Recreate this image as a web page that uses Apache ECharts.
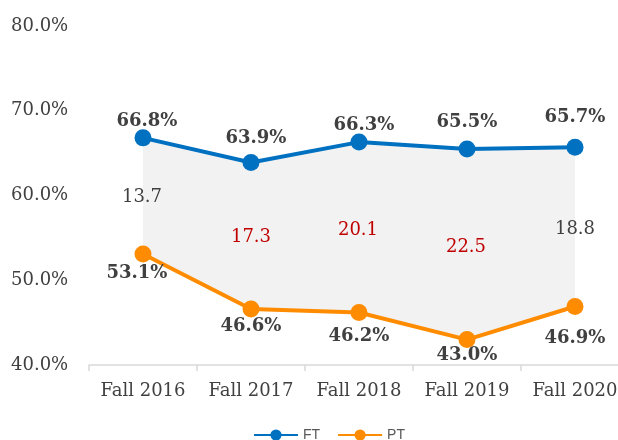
<!DOCTYPE html>
<html><head><meta charset="utf-8">
<script src="https://cdn.jsdelivr.net/npm/echarts@6/dist/echarts.min.js"></script>
<style>html,body{margin:0;padding:0;background:#fff;overflow:hidden}#c{width:640px;height:440px}</style>
</head><body><div id="c"></div>
<script>
var categories = ['Fall 2016','Fall 2017','Fall 2018','Fall 2019','Fall 2020'];
var ftValues = [66.8, 63.9, 66.3, 65.5, 65.7];
var ptValues = [53.1, 46.6, 46.2, 43.0, 46.9];
var gapValues = [13.7, 17.3, 20.1, 22.5, 18.8];
var yTicks = [40, 50, 60, 70, 80];

// label styling (offsets in px relative to point centre)
var ftOffsets = [[4,-17],[5,-24],[5,-17],[0,-27],[0,-30]];
var ptOffsets = [[-6,19],[0,17],[0,24],[0,16],[0,32]];
var gapOffsets = [[-1,59],[0,75],[-1,88],[-1,98],[0,82]];
var gapColors = ['#404040','#c00000','#c00000','#c00000','#404040'];

var serif = '"DejaVu Serif", serif';
var chart = echarts.init(document.getElementById('c'));
function labeled(vals, offs, fmt, extra) {
  return vals.map(function(v, i){
    var lab = {show:true, position:'inside', offset:offs[i], formatter:fmt,
      fontFamily:serif, fontSize:18, fontWeight:'bold', color:'#404040'};
    if (extra) Object.assign(lab, extra(i));
    return {value:v, label:lab};
  });
}
chart.setOption({
  animation:false,
  grid:{left:89, top:26, right:11, bottom:75},
  legend:{data:['FT','PT'], bottom:-7, left:248, itemWidth:44, itemHeight:14, itemGap:17,
    textStyle:{fontFamily:'"Liberation Sans", sans-serif', fontSize:14, color:'#595959'}},
  xAxis:{type:'category', data:categories, boundaryGap:true,
    axisLine:{lineStyle:{color:'#d9d9d9', width:1.5}},
    axisTick:{show:true, interval:0, alignWithLabel:false, length:6, lineStyle:{color:'#d9d9d9', width:1.5}},
    axisLabel:{interval:0, fontFamily:serif, fontSize:18, color:'#404040', margin:17}},
  yAxis:{type:'value', min:yTicks[0], max:yTicks[yTicks.length-1], interval:10,
    splitLine:{show:false}, axisLine:{show:false}, axisTick:{show:false},
    axisLabel:{fontFamily:serif, fontSize:18, color:'#404040', align:'left', margin:78,
      formatter:function(v){return v.toFixed(1)+'%';}}},
  series:[
    {name:'base', type:'line', stack:'band', data:ptValues, symbol:'none',
      lineStyle:{opacity:0}, silent:true, z:1},
    {name:'gap', type:'line', stack:'band', symbol:'circle', symbolSize:1,
      itemStyle:{color:'transparent'},
      data:labeled(gapValues, gapOffsets, function(p){return p.value.toFixed(1);},
        function(i){return {fontWeight:'normal', color:gapColors[i]};}),
      lineStyle:{opacity:0}, areaStyle:{color:'#f2f2f2', opacity:1}, silent:true, z:1},
    {name:'FT', type:'line', data:labeled(ftValues, ftOffsets, function(p){return p.value.toFixed(1)+'%';}),
      symbol:'circle', symbolSize:17, color:'#0070c0',
      lineStyle:{width:4, color:'#0070c0'}, itemStyle:{color:'#0070c0'}, z:3},
    {name:'PT', type:'line', data:labeled(ptValues, ptOffsets, function(p){return p.value.toFixed(1)+'%';}),
      symbol:'circle', symbolSize:17, color:'#ff8c00',
      lineStyle:{width:4, color:'#ff8c00'}, itemStyle:{color:'#ff8c00'}, z:3}
  ]
});
</script></body></html>
